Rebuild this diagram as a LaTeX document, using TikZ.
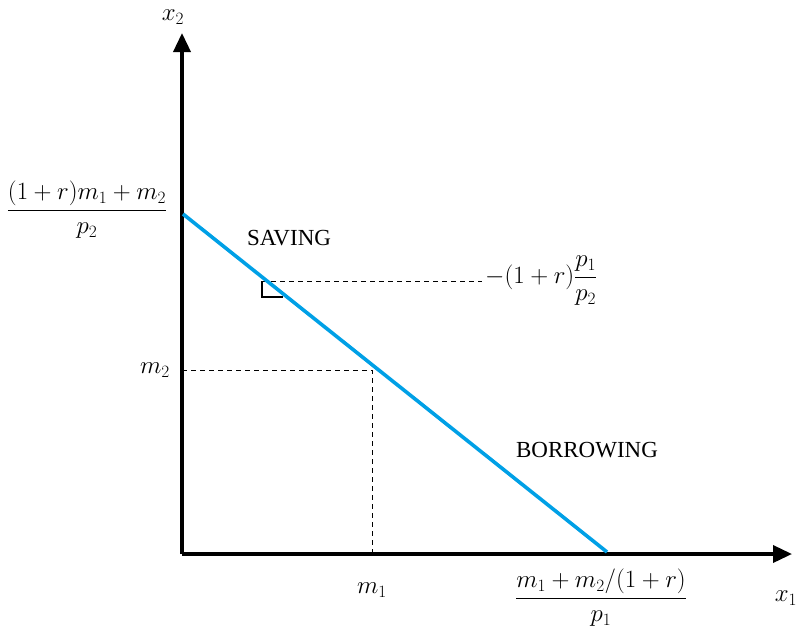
\documentclass[tikz,border=0pt]{standalone}
\usepackage{amsmath}
\usepackage{fontspec}
\setmainfont{Liberation Serif}
\usetikzlibrary{arrows.meta}
\begin{document}
\begin{tikzpicture}[x=1pt,y=-1pt,
  axis/.style={line width=3.6pt,-{Triangle[width=17pt,length=19pt]}},
  budget/.style={line width=3.6pt,draw={rgb,255:red,0;green,160;blue,230}},
  guide/.style={dashed,line width=0.8pt,dash pattern=on 5pt off 4pt},
  lbl/.style={inner sep=1pt,font=\fontsize{27}{32}\selectfont},
  word/.style={inner sep=1pt,font=\fontsize{23}{27}\selectfont}]
\useasboundingbox (0,0) rectangle (799,630);
\coordinate (O) at (182,554);
\coordinate (ytop) at (182,33);
\coordinate (xend) at (792,554);
\coordinate (A) at (183,214);
\coordinate (B) at (607,552);
\coordinate (M) at (372,370);
\coordinate (Mx) at (372,554);
\coordinate (My) at (182,370);
\coordinate (T1) at (262,281);
\coordinate (T2) at (262,297);
\coordinate (T3) at (283,297);
\coordinate (Tend) at (482,281);
\draw[axis] (O) -- (ytop);
\draw[axis] (O) -- (xend);
\draw[guide] (My) -- (M) -- (Mx);
\draw[guide] (T1) -- (Tend);
\draw[line width=1.2pt] (T1) -- (T2) -- (T3);
\draw[budget] (A) -- (B);
\node[lbl,inner sep=0pt] (x2) at (173,17) {$x_2$};
\node[lbl] (x1) at (786,598) {$x_1$};
\node[lbl] (m2) at (155,370) {$m_2$};
\node[lbl] (m1) at (372,590) {$m_1$};
\node[lbl] (yint) at (87,210) {$\dfrac{(1+r)m_1+m_2}{p_2}$};
\node[lbl] (xint) at (601,598) {$\dfrac{m_1+m_2/(1+r)}{p_1}$};
\node[lbl,anchor=west] (slope) at (484,281) {$-(1+r)\dfrac{p_1}{p_2}$};
\node[word] (sav) at (289,238) {SAVING};
\node[word] (bor) at (587,450) {BORROWING};
\end{tikzpicture}
\end{document}
